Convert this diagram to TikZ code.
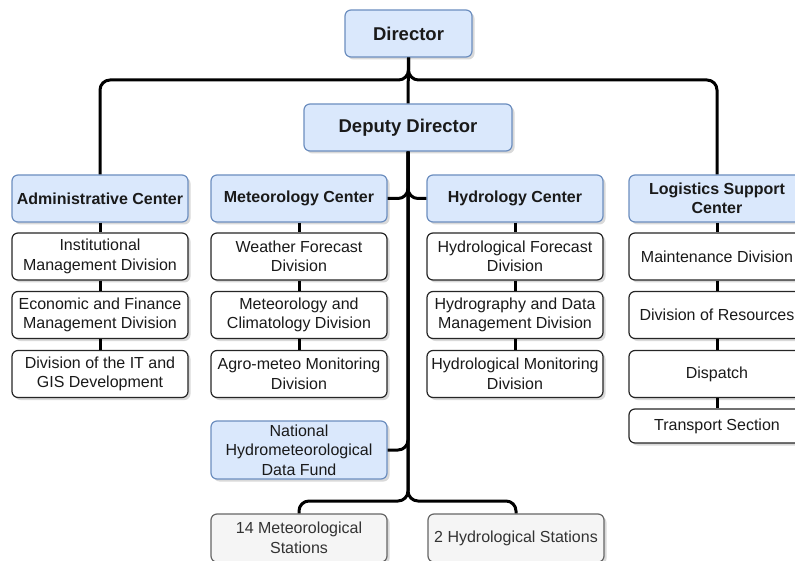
\documentclass[tikz,border=0pt]{standalone}
\usepackage{fontspec}
\setmainfont{Liberation Sans}
\usetikzlibrary{shadows}
\definecolor{bluefill}{HTML}{DAE8FC}
\definecolor{blueline}{HTML}{6C8EBF}
\definecolor{grayfill}{HTML}{F5F5F5}
\definecolor{grayline}{HTML}{666666}
\definecolor{txt}{HTML}{1A1A1A}
\tikzset{
  base/.style={rounded corners=6pt, line width=1.2pt, align=center, inner sep=1pt,
    minimum width=176pt, minimum height=47pt,
    font=\fontsize{16}{19.5}\selectfont, text=txt,
    drop shadow={shadow xshift=2.5pt, shadow yshift=-2.5pt, opacity=0.25, fill=black!60}},
  bluebox/.style={base, fill=bluefill, draw=blueline},
  headbox/.style={bluebox, font=\fontsize{16}{19.5}\selectfont\bfseries},
  whitebox/.style={base, fill=white, draw=black!85},
  graybox/.style={base, fill=grayfill, draw=grayline, text=black!80},
  conn/.style={line width=3pt, black, rounded corners=10pt},
  link/.style={line width=3pt, black}
}
\begin{document}
\begin{tikzpicture}[x=1pt, y=-1pt]
\useasboundingbox (0,0) rectangle (795,561);
\clip (0,0) rectangle (795,561);
\coordinate (bus) at (0,80);
\coordinate (split) at (0,501);

% top
\node[bluebox, font=\fontsize{18.5}{22}\selectfont\bfseries, minimum width=127pt] (dir) at (408.5,33.5) {Director};
\node[bluebox, font=\fontsize{18.5}{22}\selectfont\bfseries, minimum width=208pt] (dep) at (408,127.5) {Deputy Director};

% centers
\node[headbox] (adm) at (100,198.5) {Administrative Center};
\node[headbox] (met) at (299,198.5) {Meteorology Center};
\node[headbox] (hyd) at (515,198.5) {Hydrology Center};
\node[headbox] (log) at (717,198.5) {Logistics Support\\Center};

% administrative
\node[whitebox] (a1) at (100,256.5) {Institutional\\Management Division};
\node[whitebox] (a2) at (100,315) {Economic and Finance\\Management Division};
\node[whitebox] (a3) at (100,374) {Division of the IT and\\GIS Development};

% meteorology
\node[whitebox] (m1) at (299,256.5) {Weather Forecast\\Division};
\node[whitebox] (m2) at (299,315) {Meteorology and\\Climatology Division};
\node[whitebox] (m3) at (299,374) {Agro-meteo Monitoring\\Division};

% hydrology
\node[whitebox] (h1) at (515,256.5) {Hydrological Forecast\\Division};
\node[whitebox] (h2) at (515,315) {Hydrography and Data\\Management Division};
\node[whitebox] (h3) at (515,374) {Hydrological Monitoring\\Division};

% logistics
\node[whitebox] (l1) at (717,256.5) {Maintenance Division};
\node[whitebox] (l2) at (717,315) {Division of Resources};
\node[whitebox] (l3) at (717,374) {Dispatch};
\node[whitebox, minimum height=34pt] (l4) at (717,426) {Transport Section};

% fund and stations
\node[bluebox, minimum height=58pt] (fund) at (299,450) {National\\Hydrometeorological\\Data Fund};
\node[graybox, minimum height=48pt] (s1) at (299,538) {14 Meteorological\\Stations};
\node[graybox, minimum height=48pt] (s2) at (516,538) {2 Hydrological Stations};

% connectors
\draw[conn] (dir.south) -- (dir.south |- bus) -| (adm.north);
\draw[conn] (dir.south) -- (dir.south |- bus) -| (log.north);
\draw[link] (dir.south) -- (dep.north);
\draw[conn] (dep.south) |- (met.east);
\draw[conn] (dep.south) |- (hyd.west);
\draw[conn] (dep.south) |- (fund.east);
\draw[conn] (dep.south) -- (dep.south |- split) -| (s1.north);
\draw[conn] (dep.south) -- (dep.south |- split) -| (s2.north);

\draw[link] (adm.south) -- (a1.north);
\draw[link] (a1.south) -- (a2.north);
\draw[link] (a2.south) -- (a3.north);
\draw[link] (met.south) -- (m1.north);
\draw[link] (m1.south) -- (m2.north);
\draw[link] (m2.south) -- (m3.north);
\draw[link] (hyd.south) -- (h1.north);
\draw[link] (h1.south) -- (h2.north);
\draw[link] (h2.south) -- (h3.north);
\draw[link] (log.south) -- (l1.north);
\draw[link] (l1.south) -- (l2.north);
\draw[link] (l2.south) -- (l3.north);
\draw[link] (l3.south) -- (l4.north);
\end{tikzpicture}
\end{document}
